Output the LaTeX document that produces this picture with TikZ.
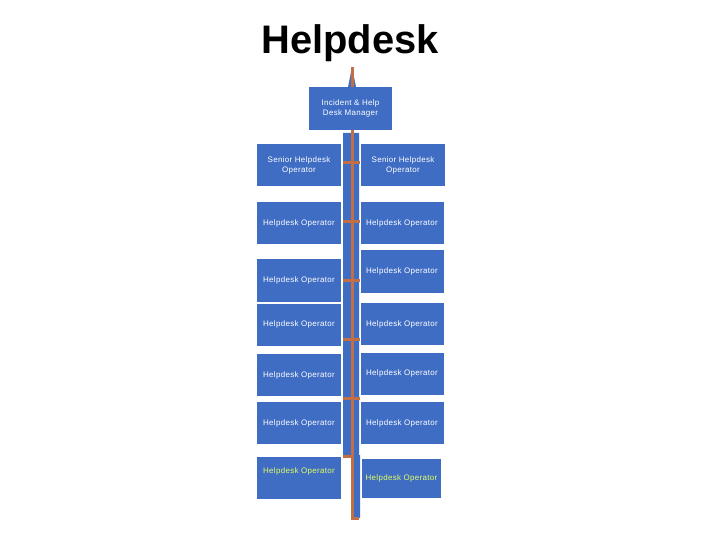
\documentclass[tikz,border=0pt]{standalone}
\usepackage{fontspec}
\setsansfont{Liberation Sans}[LetterSpace=4]
\newfontfamily\hdtitlefont{Liberation Sans}
\definecolor{hdblue}{RGB}{64,109,196}
\definecolor{hdorange}{RGB}{192,112,68}
\definecolor{hdyellow}{RGB}{226,255,96}
\tikzset{
	hdbox/.style={fill=hdblue,text=white,minimum width=84bp,minimum height=42bp,inner sep=0pt,
		font=\sffamily\fontsize{8}{10}\selectfont,align=center},
	spine/.style={color=hdorange,line width=3bp},
}
\begin{document}
\begin{tikzpicture}[x=1bp,y=-1bp]
	\useasboundingbox (0,0) rectangle (720,540);
	\node (title) at (350,43) {\hdtitlefont\bfseries\fontsize{40}{44}\selectfont Helpdesk};
	% blue strip behind the spine
	\fill[hdblue](343,133) rectangle (359,455) (351,455) rectangle (360,518);
	\fill[hdblue](348,87)--(352,67)--(356,87)--cycle;
	% spine
	\coordinate (top) at (352,67);
	\coordinate (bot) at (352,518);
	\draw[spine](top)--(bot)--++(7,0);
	\draw[spine](343,456)--(352,456);
	\foreach \t in {163,222,280,339,398}
		\draw[spine](343,\t)--(360,\t);
	% boxes
	\node[hdbox,minimum width=83bp,minimum height=43bp] (mgr) at (350.5,108.5) {Incident \& Help\\Desk Manager};
	\node[hdbox] (l1) at (299,165.5) {Senior Helpdesk\\Operator};
	\node[hdbox] (r1) at (403,165.5) {Senior Helpdesk\\Operator};
	\foreach \n/\yl/\yr in {2/223/223,3/280.5/271.5,4/324.5/324,5/375/373.5,6/423/423}{
		\node[hdbox] (l\n) at (299,\yl) {Helpdesk Operator};
		\node[hdbox,minimum width=83bp] (r\n) at (402,\yr) {Helpdesk Operator};
	}
	\node[hdbox,text=hdyellow,text depth=14bp] (l7) at (299,478) {Helpdesk Operator};
	\node[hdbox,text=hdyellow,minimum width=79bp,minimum height=39bp] (r7) at (401.5,478.5) {Helpdesk Operator};
\end{tikzpicture}
\end{document}
